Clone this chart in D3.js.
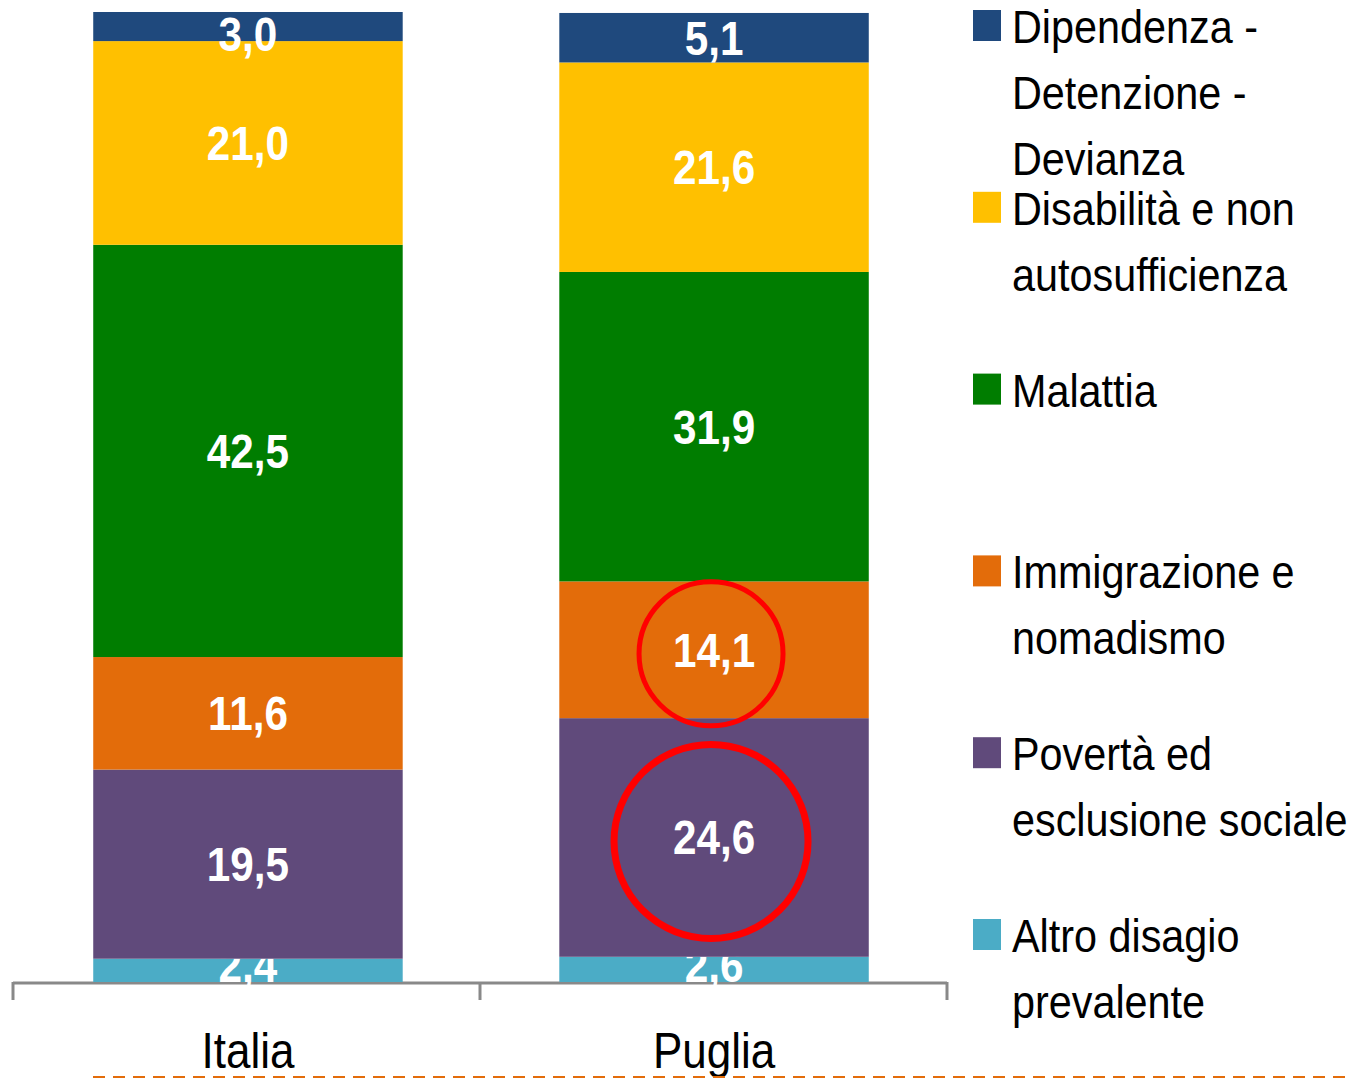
<!DOCTYPE html>
<html>
<head>
<meta charset="utf-8">
<script src="https://cdn.jsdelivr.net/npm/d3@7"></script>
<style>
  body { margin: 0; background: #fff; }
  svg text { font-family: "Liberation Sans", Arial, sans-serif; }
</style>
</head>
<body>
<div id="chart"></div>
<script>
// data, bottom of the stack first
var categories = ["Italia", "Puglia"];
var seriesNames = [
    "Altro disagio prevalente",
    "Povertà ed esclusione sociale",
    "Immigrazione e nomadismo",
    "Malattia",
    "Disabilità e non autosufficienza",
    "Dipendenza - Detenzione - Devianza"
];
var italia = [2.4, 19.5, 11.6, 42.5, 21.0, 3.0];
var puglia = [2.6, 24.6, 14.1, 31.9, 21.6, 5.1];
var colors = ["#4BACC6", "#604A7B", "#E36C0A", "#007D00", "#FFC000", "#1F497D"];
// segments highlighted with a red circle (Puglia)
var highlighted = [{ cat: "Puglia", serie: 2, r: 72 }, { cat: "Puglia", serie: 1, r: 97 }];

var W = 1353, H = 1078;
var baseY = 982, topY = 12;
var squeeze = 0.88; // narrow font look

var svg = d3.select("#chart").append("svg")
    .attr("width", W)
    .attr("height", H);

// build rows for d3.stack
var rows = categories.map(function(c, ci) {
    var vals = ci === 0 ? italia : puglia;
    var row = { cat: c };
    seriesNames.forEach(function(s, i) { row[s] = vals[i]; });
    return row;
});

var stacked = d3.stack().keys(seriesNames)(rows);

var x = d3.scaleBand()
    .domain(categories)
    .range([14, 948])
    .paddingInner(0.336)
    .paddingOuter(0.17);

var y = d3.scaleLinear()
    .domain([0, 100])
    .range([baseY, topY]);

var color = d3.scaleOrdinal().domain(seriesNames).range(colors);

var layers = svg.selectAll("g.layer")
    .data(stacked)
    .enter()
    .append("g")
    .attr("class", "layer")
    .attr("fill", function(d) { return color(d.key); });

layers.selectAll("rect")
    .data(function(d) { return d; })
    .enter()
    .append("rect")
    .attr("x", function(d) { return x(d.data.cat); })
    .attr("y", function(d) { return y(d[1]); })
    .attr("width", x.bandwidth())
    .attr("height", function(d) { return y(d[0]) - y(d[1]); });

var fmt = function(v) { return d3.format(".1f")(v).replace(".", ","); };

// value labels, digits centred on the segment but kept inside the plot
var labelY = function(d) {
    var c = (y(d[0]) + y(d[1])) / 2;
    return Math.min(Math.max(c, topY + 22), baseY - 17);
};

// axis line and category boundary ticks (under the labels)
var r0 = x.range()[0], r1 = x.range()[1];
var axisG = svg.insert("g", "g.layer").attr("stroke", "#898989").attr("stroke-width", 3);
axisG.append("line")
    .attr("x1", r0 - 1).attr("x2", r1 - 1)
    .attr("y1", baseY + 1).attr("y2", baseY + 1);
d3.range(categories.length + 1).forEach(function(i) {
    var bx = r0 - 1 + i * (r1 - r0) / categories.length;
    axisG.append("line")
        .attr("x1", bx).attr("x2", bx)
        .attr("y1", baseY).attr("y2", baseY + 18);
});

layers.selectAll("text")
    .data(function(d) { return d; })
    .enter()
    .append("text")
    .text(function(d) { return fmt(d[1] - d[0]); })
    .attr("transform", function(d) {
        return "translate(" + (x(d.data.cat) + x.bandwidth() / 2) + "," + (labelY(d) + 17) + ") scale(" + squeeze + ",1)";
    })
    .attr("text-anchor", "middle")
    .attr("font-size", "48px")
    .attr("font-weight", "bold")
    .attr("fill", "white");

// category labels
var xAxis = d3.axisBottom(x).tickSize(0).tickPadding(0);
var xg = svg.append("g")
    .attr("transform", "translate(0," + baseY + ")")
    .call(xAxis);
xg.select(".domain").remove();
xg.selectAll("text")
    .attr("y", 0)
    .attr("dy", 0)
    .attr("transform", "translate(0,86) scale(" + squeeze + ",1)")
    .attr("font-size", "50px")
    .attr("fill", "black");

// dashed line at the bottom
svg.append("line")
    .attr("x1", 93).attr("x2", W)
    .attr("y1", 1077).attr("y2", 1077)
    .attr("stroke", "#E36C0A")
    .attr("stroke-width", 2)
    .attr("stroke-dasharray", "12,8");

// red circles
highlighted.forEach(function(h) {
    var seg = stacked[h.serie].find(function(d) { return d.data.cat === h.cat; });
    svg.append("circle")
        .attr("cx", x(h.cat) + x.bandwidth() / 2 - 3)
        .attr("cy", (y(seg[0]) + y(seg[1])) / 2 + 4)
        .attr("r", h.r)
        .attr("fill", "none")
        .attr("stroke", "#FF0000")
        .attr("stroke-width", h.r > 80 ? 7 : 5);
});

// legend, top series first
var legendX = 973, textX = 1012, maxW = 345;
var legend = svg.append("g");
seriesNames.slice().reverse().forEach(function(name, i) {
    var base = 43 + i * 181.8;
    legend.append("rect")
        .attr("x", legendX).attr("y", base - 33)
        .attr("width", 28).attr("height", 31)
        .attr("fill", color(name));
    var t = legend.append("text")
        .attr("transform", "translate(" + textX + ",0) scale(" + squeeze + ",1)")
        .attr("font-size", "47px")
        .attr("fill", "black");
    // wrap words on measured width
    var words = name.split(" ");
    var line = [], lineNo = 0;
    var tspan = t.append("tspan").attr("x", 0).attr("y", base);
    words.forEach(function(w) {
        line.push(w);
        tspan.text(line.join(" "));
        if (tspan.node().getComputedTextLength() * squeeze > maxW && line.length > 1) {
            line.pop();
            tspan.text(line.join(" "));
            line = [w];
            lineNo++;
            tspan = t.append("tspan").attr("x", 0).attr("y", base + lineNo * 66).text(w);
        }
    });
});
</script>
</body>
</html>
